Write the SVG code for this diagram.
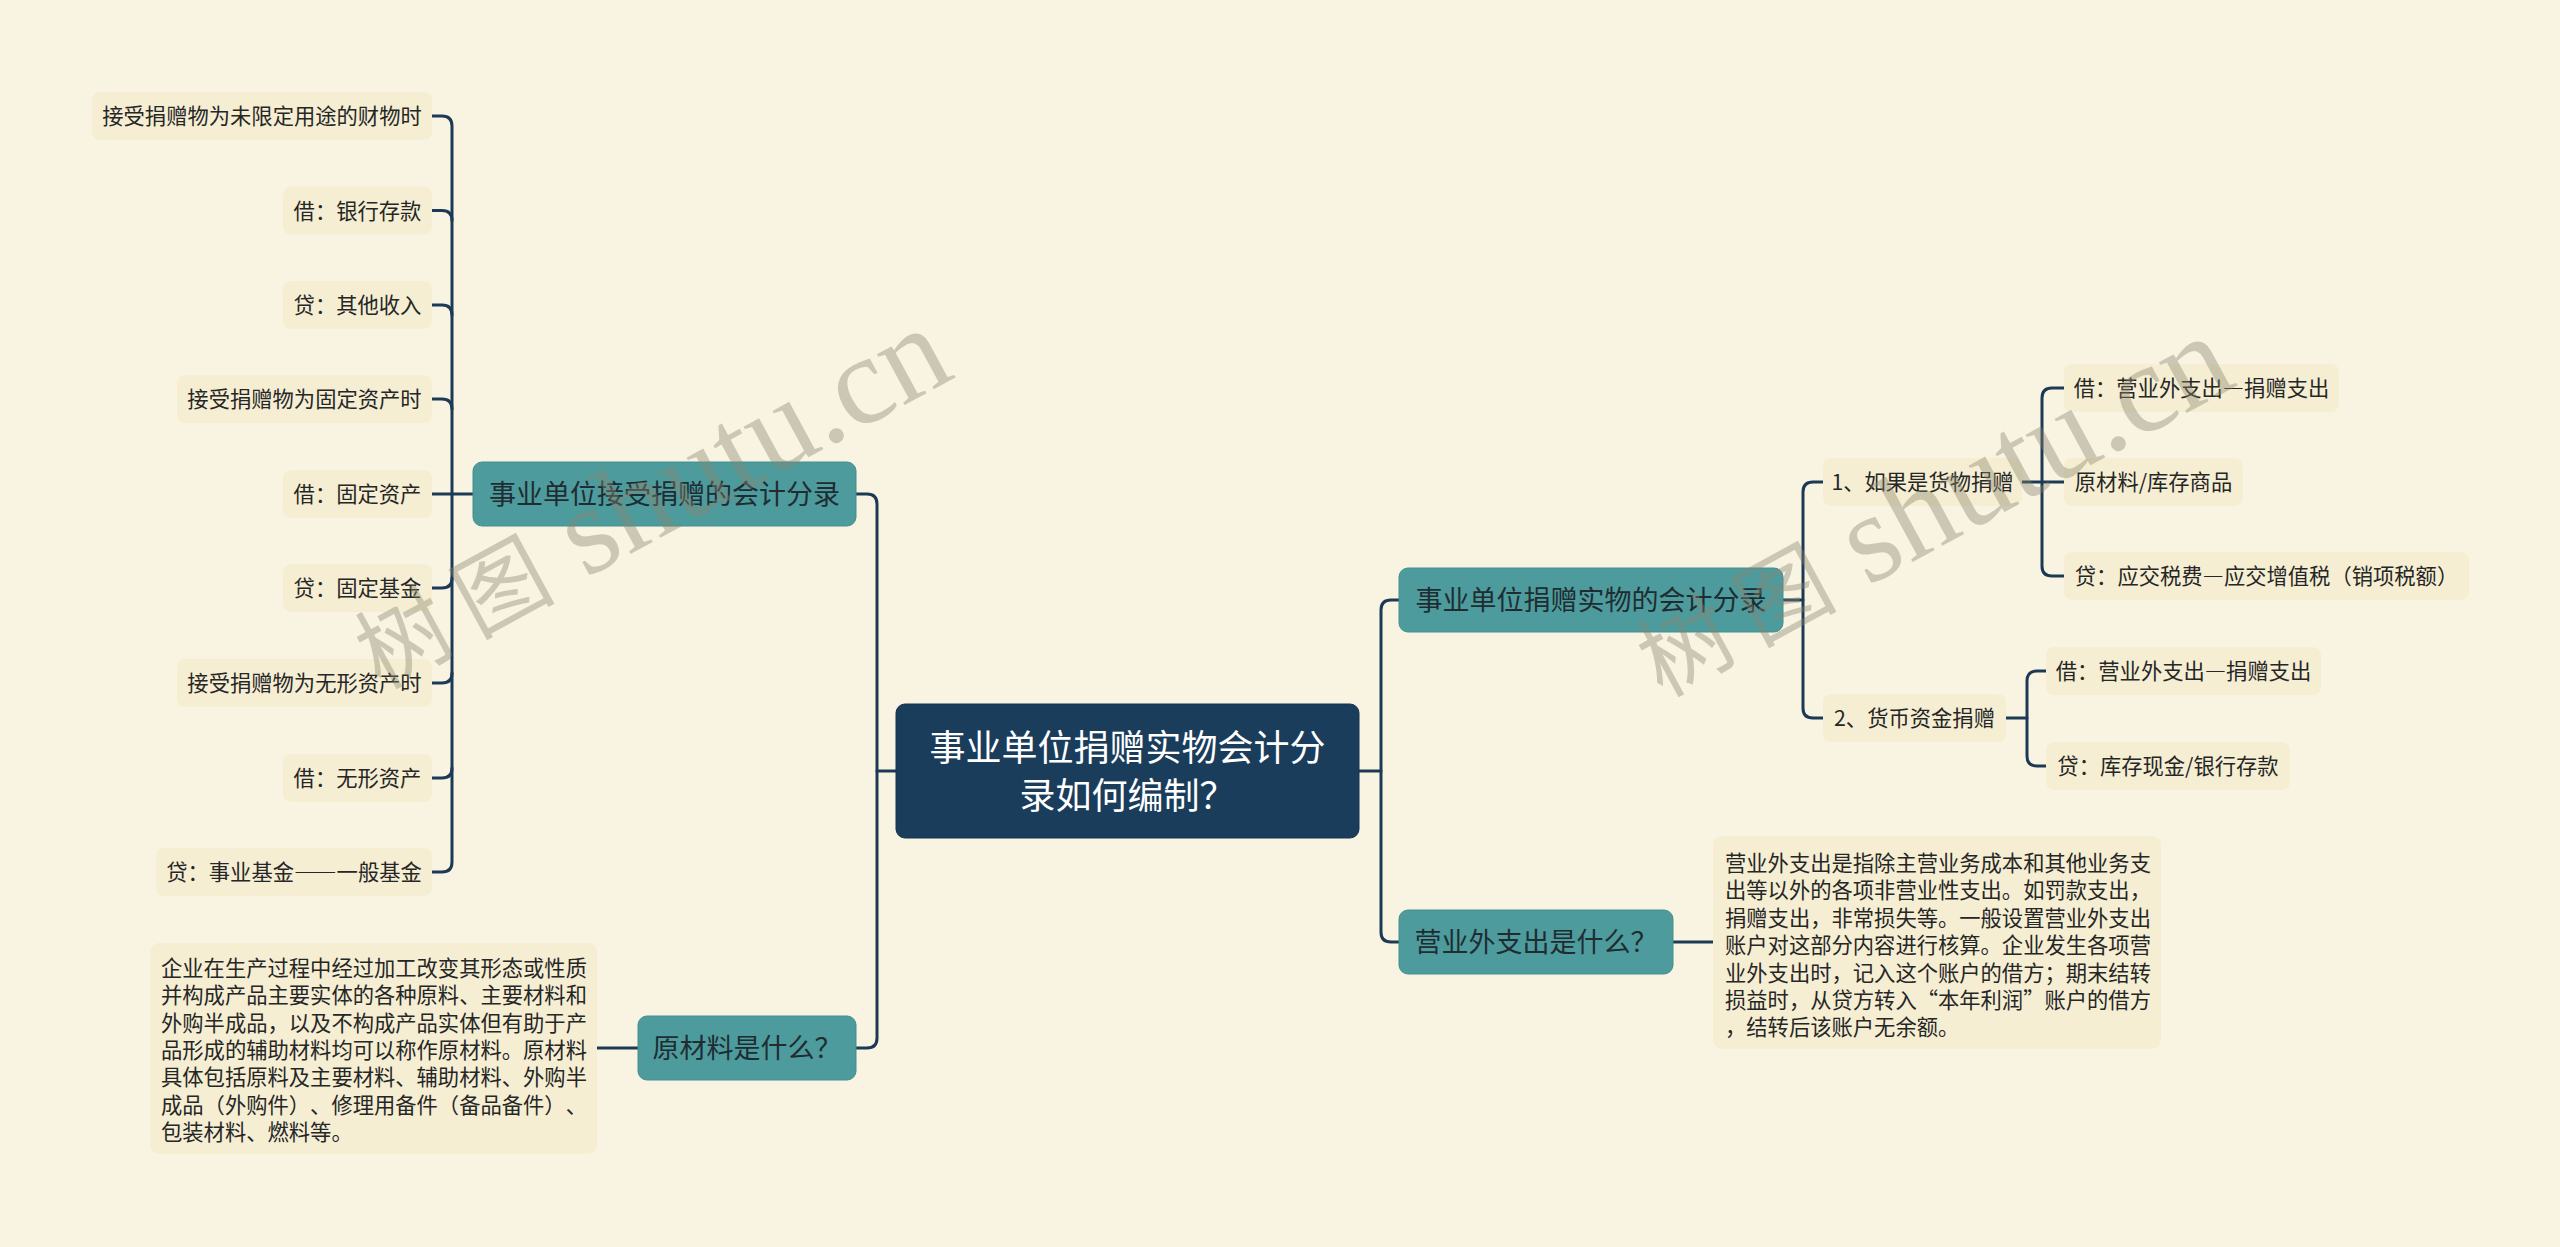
<svg xmlns="http://www.w3.org/2000/svg" width="2560" height="1247" viewBox="0 0 2560 1247">
<style>
text{text-spacing-trim:space-all;}
.leaf{fill:#f5eed3;}
.lt{font-family:"Noto Sans CJK SC","Noto Sans",sans-serif;font-size:21.3px;fill:#262626;text-anchor:middle;}
.dt{font-family:"Noto Sans CJK SC","Noto Sans",sans-serif;font-size:21.3px;fill:#262626;}
.br{fill:#4d9b9c;stroke:#43908f;stroke-width:1;}
.bt{font-family:"Noto Sans CJK SC","Noto Sans",sans-serif;font-size:27px;fill:#1f2d33;text-anchor:middle;}
.root{fill:#1b3d5c;stroke:#143250;stroke-width:1;}
.rt{font-family:"Noto Sans CJK SC","Noto Sans",sans-serif;font-size:36px;fill:#ffffff;text-anchor:middle;}
.fw{font-feature-settings:"fwid";}
.cn{fill:none;stroke:#1c3a56;stroke-width:3;stroke-linecap:round;}
.wm{fill:#8a8570;fill-opacity:0.4;font-family:"Liberation Serif","Noto Sans CJK SC",serif;}
</style>
<rect width="2560" height="1247" fill="#f9f4e1"/>

<g id="connectors" class="cn">
<path d="M432 116 H442 Q452 116 452 126 V862 Q452 872 442 872 H432"/>
<path d="M432 210.5 H442 Q452 210.5 452 220.5"/>
<path d="M432 305 H442 Q452 305 452 315"/>
<path d="M432 399 H442 Q452 399 452 409"/>
<path d="M473 494 H432"/>
<path d="M432 588 H442 Q452 588 452 578"/>
<path d="M432 683 H442 Q452 683 452 673"/>
<path d="M432 778 H442 Q452 778 452 768"/>
<path d="M896 771 H877"/>
<path d="M856 494 H867 Q877 494 877 504 V1038 Q877 1048 867 1048 H856"/>
<path d="M638 1048 H597"/>
<path d="M1359 771 H1381"/>
<path d="M1399 600 H1391 Q1381 600 1381 610 V932 Q1381 942 1391 942 H1399"/>
<path d="M1673 942 H1713"/>
<path d="M1783 600 H1803"/>
<path d="M1823 482 H1813 Q1803 482 1803 492 V708 Q1803 718 1813 718 H1823"/>
<path d="M2022 482 H2064"/>
<path d="M2064 388 H2052 Q2042 388 2042 398 V566 Q2042 576 2052 576 H2064"/>
<path d="M2006 718 H2027"/>
<path d="M2046 671 H2037 Q2027 671 2027 681 V756 Q2027 766 2037 766 H2046"/>
</g>

<g id="root">
<rect class="root" x="896" y="704" width="463" height="134" rx="9"/>
<text class="rt" x="1127.5" y="761">事业单位捐赠实物会计分</text>
<text class="rt" x="1127.5" y="809">录如何编制？</text>
</g>

<g id="branch-left-1">
<rect class="br" x="473" y="462" width="383" height="64" rx="9"/>
<text class="bt" x="664.5" y="504">事业单位接受捐赠的会计分录</text>
</g>
<g id="branch-left-2">
<rect class="br" x="638" y="1016" width="218" height="64" rx="9"/>
<text class="bt" x="747" y="1058">原材料是什么？</text>
</g>
<g id="branch-right-1">
<rect class="br" x="1399" y="568" width="384" height="64" rx="9"/>
<text class="bt" x="1591" y="610">事业单位捐赠实物的会计分录</text>
</g>
<g id="branch-right-2">
<rect class="br" x="1399" y="910" width="274" height="64" rx="9"/>
<text class="bt" x="1536" y="952">营业外支出是什么？</text>
</g>

<g id="leaf-l1"><rect class="leaf" x="92" y="92" width="340" height="48" rx="8"/><text class="lt" x="262" y="124">接受捐赠物为未限定用途的财物时</text></g>
<g id="leaf-l2"><rect class="leaf" x="283" y="186.5" width="149" height="48" rx="8"/><text class="lt" x="357.5" y="218.5">借：银行存款</text></g>
<g id="leaf-l3"><rect class="leaf" x="283" y="281" width="149" height="48" rx="8"/><text class="lt" x="357.5" y="313">贷：其他收入</text></g>
<g id="leaf-l4"><rect class="leaf" x="177" y="375" width="255" height="48" rx="8"/><text class="lt" x="304.5" y="407">接受捐赠物为固定资产时</text></g>
<g id="leaf-l5"><rect class="leaf" x="283" y="470" width="149" height="48" rx="8"/><text class="lt" x="357.5" y="502">借：固定资产</text></g>
<g id="leaf-l6"><rect class="leaf" x="283" y="564" width="149" height="48" rx="8"/><text class="lt" x="357.5" y="596">贷：固定基金</text></g>
<g id="leaf-l7"><rect class="leaf" x="177" y="659" width="255" height="48" rx="8"/><text class="lt" x="304.5" y="691">接受捐赠物为无形资产时</text></g>
<g id="leaf-l8"><rect class="leaf" x="283" y="754" width="149" height="48" rx="8"/><text class="lt" x="357.5" y="786">借：无形资产</text></g>
<g id="leaf-l9"><rect class="leaf" x="156" y="848" width="276" height="48" rx="8"/><text class="lt" x="294" y="880">贷：事业基金<tspan class="fw">——</tspan>一般基金</text></g>

<g id="desc-left">
<rect class="leaf" x="150" y="943" width="447" height="211" rx="9"/>
<text class="dt" x="161" y="976">企业在生产过程中经过加工改变其形态或性质</text>
<text class="dt" x="161" y="1003.3">并构成产品主要实体的各种原料、主要材料和</text>
<text class="dt" x="161" y="1030.6">外购半成品，以及不构成产品实体但有助于产</text>
<text class="dt" x="161" y="1057.9">品形成的辅助材料均可以称作原材料。原材料</text>
<text class="dt" x="161" y="1085.2">具体包括原料及主要材料、辅助材料、外购半</text>
<text class="dt" x="161" y="1112.5">成品（外购件）、修理用备件（备品备件）、</text>
<text class="dt" x="161" y="1139.8">包装材料、燃料等。</text>
</g>

<g id="leaf-r1"><rect class="leaf" x="1823" y="458" width="199" height="48" rx="8"/><text class="lt" x="1922.5" y="490">1、如果是货物捐赠</text></g>
<g id="leaf-r2"><rect class="leaf" x="1823" y="694" width="183" height="48" rx="8"/><text class="lt" x="1914.5" y="726">2、货币资金捐赠</text></g>
<g id="leaf-r11"><rect class="leaf" x="2064" y="364" width="275" height="48" rx="8"/><text class="lt" x="2201.5" y="396">借：营业外支出<tspan class="fw">—</tspan>捐赠支出</text></g>
<g id="leaf-r12"><rect class="leaf" x="2064" y="458" width="179" height="48" rx="8"/><text class="lt" x="2153.5" y="490">原材料/库存商品</text></g>
<g id="leaf-r13"><rect class="leaf" x="2064" y="552" width="405" height="48" rx="8"/><text class="lt" x="2266.5" y="584">贷：应交税费<tspan class="fw">—</tspan>应交增值税（销项税额）</text></g>
<g id="leaf-r21"><rect class="leaf" x="2046" y="647" width="275" height="48" rx="8"/><text class="lt" x="2183.5" y="679">借：营业外支出<tspan class="fw">—</tspan>捐赠支出</text></g>
<g id="leaf-r22"><rect class="leaf" x="2046" y="742" width="244" height="48" rx="8"/><text class="lt" x="2168" y="774">贷：库存现金/银行存款</text></g>

<g id="desc-right">
<rect class="leaf" x="1713" y="836" width="448" height="213" rx="9"/>
<text class="dt" x="1725" y="871">营业外支出是指除主营业务成本和其他业务支</text>
<text class="dt" x="1725" y="898.4">出等以外的各项非营业性支出。如罚款支出，</text>
<text class="dt" x="1725" y="925.8">捐赠支出，非常损失等。一般设置营业外支出</text>
<text class="dt" x="1725" y="953.2">账户对这部分内容进行核算。企业发生各项营</text>
<text class="dt" x="1725" y="980.6">业外支出时，记入这个账户的借方；期末结转</text>
<text class="dt" x="1725" y="1008">损益时，从贷方转入“本年利润”账户的借方</text>
<text class="dt" x="1725" y="1035.4">，结转后该账户无余额。</text>
</g>

<g id="watermarks">
<text class="wm" transform="translate(380,690) rotate(-28.5)"><tspan font-size="92">树</tspan><tspan dx="18" font-size="92">图</tspan><tspan font-size="126"> shutu.cn</tspan></text>
<text class="wm" transform="translate(1662,698) rotate(-28.5)"><tspan font-size="92">树</tspan><tspan dx="18" font-size="92">图</tspan><tspan font-size="126"> shutu.cn</tspan></text>
</g>
</svg>
